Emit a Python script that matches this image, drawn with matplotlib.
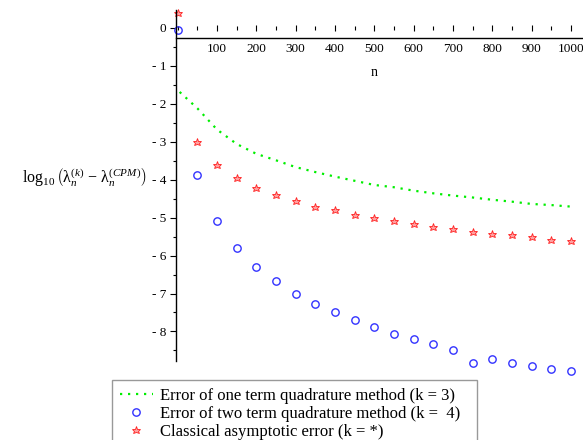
import matplotlib
matplotlib.use("Agg")
import matplotlib.pyplot as plt
from matplotlib.ticker import MultipleLocator, FuncFormatter
from matplotlib.lines import Line2D

plt.rcParams['font.family'] = ['Liberation Serif', 'DejaVu Serif']
plt.rcParams['mathtext.fontset'] = 'custom'
plt.rcParams['mathtext.rm'] = 'Liberation Serif'
plt.rcParams['mathtext.it'] = 'Liberation Serif:italic'
plt.rcParams['mathtext.bf'] = 'Liberation Serif:bold'

# ---- data ----
n_green = [5, 50, 100, 150, 200, 250, 300, 350, 400, 450, 500, 550, 600, 650,
           700, 750, 800, 850, 900, 950, 1000]
err_one_term = [-1.69, -2.12, -2.68, -3.06, -3.32, -3.49, -3.67, -3.80, -3.92,
                -4.03, -4.14, -4.20, -4.29, -4.36, -4.42, -4.47, -4.53, -4.58,
                -4.64, -4.67, -4.71]

n_pts = [1, 50, 100, 150, 200, 250, 300, 350, 400, 450, 500, 550, 600, 650,
         700, 750, 800, 850, 900, 950, 1000]
err_two_term = [-0.05, -3.87, -5.08, -5.79, -6.30, -6.68, -7.00, -7.27, -7.50,
                -7.71, -7.89, -8.06, -8.21, -8.34, -8.48, -8.82, -8.73, -8.82,
                -8.90, -8.99, -9.05]
err_classical = [0.39, -3.00, -3.61, -3.96, -4.21, -4.40, -4.57, -4.71, -4.81,
                 -4.92, -5.01, -5.10, -5.16, -5.24, -5.30, -5.37, -5.42, -5.47,
                 -5.52, -5.58, -5.62]

x_ticks = [100, 200, 300, 400, 500, 600, 700, 800, 900, 1000]
y_ticks = [0, -1, -2, -3, -4, -5, -6, -7, -8]

labels = ["Error of one term quadrature method (k = 3)",
          "Error of two term quadrature method (k =  4)",
          "Classical asymptotic error (k = *)"]

W, H = 583, 440
fig = plt.figure(figsize=(W / 100, H / 100), dpi=100)
ax = fig.add_axes([176 / W, 1 - 360.7 / H, (W - 176) / W, (360.7 - 10) / H])

star_kw = dict(marker='*', markersize=6.2, markerfacecolor='#ffa0a0',
               markeredgecolor='#ff2020', markeredgewidth=0.6)
circ_kw = dict(marker='o', markersize=5.3, markerfacecolor='none',
               markeredgecolor='#3333ff', markeredgewidth=1.0)
green_kw = dict(color='#00ee00', linestyle=(0, (1, 2.6)), linewidth=1.6,
                dash_capstyle='butt')

ax.plot(n_green, err_one_term, clip_on=False, **green_kw)
ax.plot(n_pts, err_two_term, linestyle='none', clip_on=False, **circ_kw)
ax.plot(n_pts, err_classical, linestyle='none', clip_on=False, **star_kw)

ax.set_xlim(-4.3, 1030.5)
ax.set_ylim(-8.77, 0.47)

# spines
ax.spines['right'].set_visible(False)
ax.spines['bottom'].set_position(('data', -0.263))
ax.spines['top'].set_position(('data', 0))
ax.spines['top'].set_color('none')
for s in ['left', 'bottom']:
    ax.spines[s].set_linewidth(1.0)
    ax.spines[s].set_color('black')

ax.set_xticks(x_ticks)
ax.xaxis.set_minor_locator(MultipleLocator(50))
ax.tick_params(axis='x', which='both', bottom=False, top=True,
               labelbottom=True, labeltop=False, direction='inout',
               labelsize=9.5, pad=1.5)
ax.tick_params(axis='x', which='major', length=5, width=0.8)
ax.tick_params(axis='x', which='minor', length=2.5, width=0.8)

ax.set_yticks(y_ticks)
ax.yaxis.set_minor_locator(MultipleLocator(0.5))
ax.yaxis.set_major_formatter(FuncFormatter(lambda v, p: "0" if v == 0 else "- %d" % abs(v)))
ax.tick_params(axis='y', which='both', direction='out', labelsize=9.5, pad=3)
ax.tick_params(axis='y', which='major', length=4, width=0.8)
ax.tick_params(axis='y', which='minor', length=2, width=0.8)

fig.text(374 / W, 1 - 72 / H, "n", ha='center', va='center', fontsize=10)
fig.text(22 / W, 1 - 178 / H,
         r'$\log_{10}\left(\mathrm{\lambda}_n^{(k)}\, -\, \mathrm{\lambda}_n^{(CPM)}\right)$',
         ha='left', va='center', fontsize=11.5)

handles = [Line2D([], [], **green_kw),
           Line2D([], [], linestyle='none', **circ_kw),
           Line2D([], [], linestyle='none', **star_kw)]
leg = fig.legend(handles, labels, loc='upper left', mode='expand',
                 bbox_to_anchor=(112 / W, 1 - 380 / H - 0.2, 365 / W, 0.2),
                 fontsize=12, frameon=True, fancybox=False, handlelength=2.0,
                 handletextpad=0.4, borderpad=0.45, labelspacing=0.13,
                 borderaxespad=0)
leg.get_frame().set_edgecolor('#808080')
leg.get_frame().set_linewidth(1.0)

fig.savefig("out.png", dpi=100)
